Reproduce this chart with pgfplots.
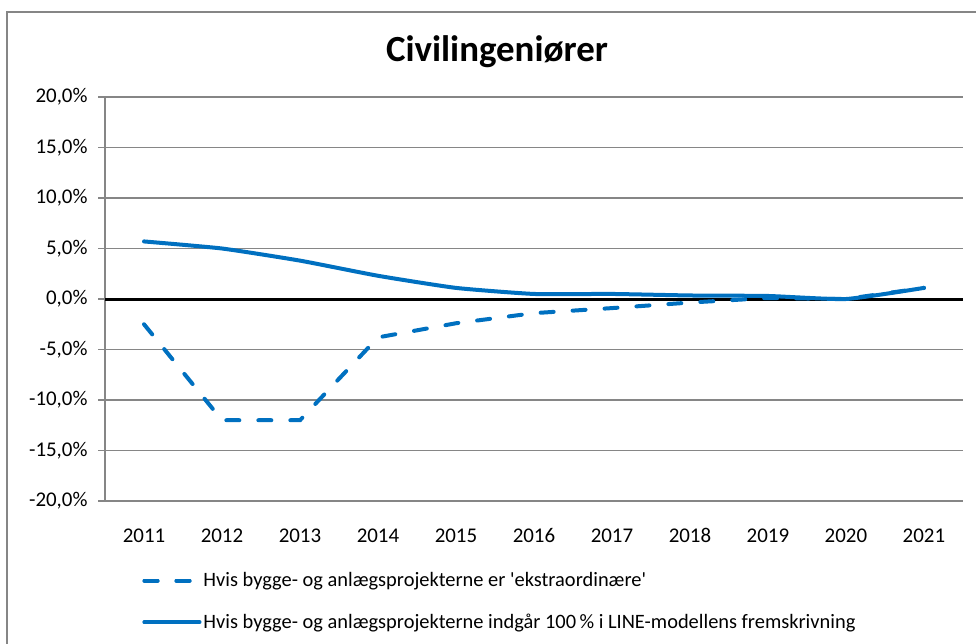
\documentclass[border=0pt]{standalone}
\usepackage{fontspec}
\setmainfont{Carlito}[Ligatures=TeXOff]
\usepackage{pgfplots}
\pgfplotsset{compat=1.18}
\definecolor{lineblue}{HTML}{0070C0}
\definecolor{gridgray}{HTML}{868686}
\begin{document}
\begin{tikzpicture}[x=1bp,y=1bp]
\path[use as bounding box] (0,0) rectangle (976,-644);
\draw[gridgray, line width=1.2bp] (7,-650) -- (7,-12) -- (980,-12);
\node[font=\fontsize{37}{42}\selectfont\bfseries] at (497,-52) {Civilingeniører};
\begin{axis}[
  at={(105bp,-501bp)}, anchor=south west,
  scale only axis, width=858bp, height=404bp,
  xmin=2010.5, xmax=2021.5, ymin=-20, ymax=20,
  axis lines=left,
  axis line style={-, gridgray, line width=1.2bp},
  xtick={2011,...,2021},
  xticklabels={2011,2012,2013,2014,2015,2016,2017,2018,2019,2020,2021},
  ytick={-20,-15,...,20},
  yticklabels={{-20,0\%},{-15,0\%},{-10,0\%},{-5,0\%},{0,0\%},{5,0\%},{10,0\%},{15,0\%},{20,0\%}},
  ymajorgrids,
  major grid style={gridgray, line width=1.2bp},
  x tick style={draw=none},
  y tick style={gridgray, line width=1.2bp},
  tick align=outside,
  major tick length=7bp,
  tick label style={font=\fontsize{21}{25}\selectfont},
  xticklabel style={anchor=base, yshift=-34bp},
  yticklabel style={xshift=-7bp},
  clip=false,
  legend cell align=left,
  legend style={draw=none, fill=none, at={(axis description cs:0.04,-0.167)}, anchor=north west,
    font=\fontsize{20.5}{24}\selectfont, row sep=22bp},
  legend image code/.code={\draw[#1] (0bp,0bp) -- (48bp,0bp); \path (0bp,0bp) -- (55bp,0bp);},
]
\draw[black, line width=3bp] (axis cs:2010.5,0) -- (axis cs:2021.5,0);
\addplot[lineblue, line width=4bp, line cap=round, dash pattern=on 13bp off 19bp]
  coordinates {(2011,-2.5) (2012,-12.0) (2013,-12.0) (2014,-3.8) (2015,-2.4) (2016,-1.4) (2017,-0.9) (2018,-0.35) (2019,0.1) (2020,0.0) (2021,1.1)};
\addlegendentry{Hvis bygge- og anlægsprojekterne er 'ekstraordinære'}
\addplot[lineblue, line width=4bp, line cap=round, smooth, tension=0.3]
  coordinates {(2011,5.7) (2012,5.0) (2013,3.8) (2014,2.3) (2015,1.1) (2016,0.5) (2017,0.5) (2018,0.35) (2019,0.3) (2020,0.0) (2021,1.1)};
\addlegendentry{Hvis bygge- og anlægsprojekterne indgår 100\,\% i LINE-modellens fremskrivning}
\end{axis}
\end{tikzpicture}
\end{document}
